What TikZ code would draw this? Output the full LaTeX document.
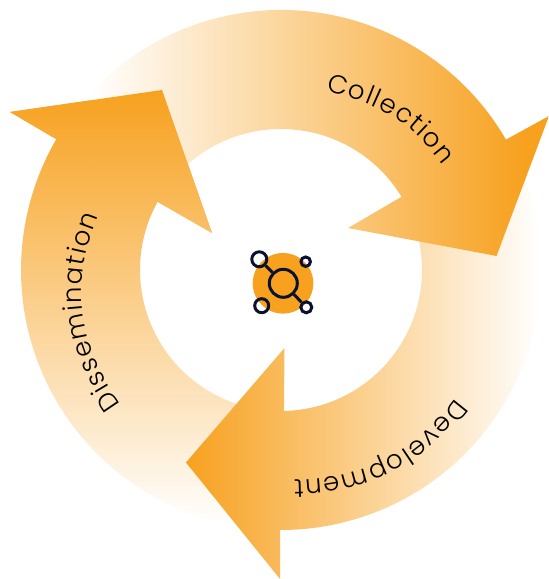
\documentclass[tikz,border=0pt]{standalone}
\usepackage{fontspec}
\setmainfont{Poppins}[UprightFont=* Light]
\usetikzlibrary{decorations.text}
\definecolor{brandorange}{HTML}{F7A11F}
\definecolor{iconnavy}{HTML}{0B1130}
\tikzset{
  x=1pt,y=1pt,
  ring/.style={circle,draw=iconnavy,line width=3pt,inner sep=0pt},
  iconlink/.style={draw=iconnavy,line width=3pt},
  curvedlabel/.style={decorate,decoration={text along path,text align={fit to path},text color=black,
    text={|\fontsize{26}{26}\selectfont|#1}}}
}
\newcommand{\pathone}{([shift={(c)}]150:260) arc[start angle=150,end angle=30.1,radius=260] -- (549,463) -- (496.5,323) -- (348,351) -- (402,382.5) -- ([shift={(c)}]31.4:141) arc[start angle=31.4,end angle=150,radius=141] -- cycle}
\newcommand{\pathtwo}{([shift={(c)}]25:260) arc[start angle=25,end angle=-90.2,radius=260] -- (280,0) -- (186,116.5) -- (284.5,231) -- ([shift={(c)}]-88.8:141) arc[start angle=-88.8,end angle=15,radius=141] -- cycle}
\newcommand{\paththree}{([shift={(c)}]-100:260) arc[start angle=-100,end angle=-210.2,radius=260] -- (10,467) -- (162,489) -- (212,346) -- (158,377) -- ([shift={(c)}]151:141) arc[start angle=151,end angle=260,radius=141] -- cycle}
\newcommand{\headthree}{(56,440) -- (10,467) -- (162,489) -- (212,346) -- (158,377) -- cycle}
\newcommand{\shadeone}{\shade[left color=white,right color=brandorange] (90,0) rectangle (525,579);\fill[brandorange] (525,0) rectangle (549,579);}
\newcommand{\shadetwo}{\shade[left color=brandorange,right color=white] (186,0) rectangle (540,579);}
\newcommand{\shadethree}{\shade[top color=brandorange,bottom color=white] (0,54) rectangle (549,489);}
\begin{document}
\begin{tikzpicture}
\useasboundingbox (0,0) rectangle (549,579);
\coordinate (c) at (281,309);
\begin{scope}\clip \paththree; \shadethree\end{scope}
\begin{scope}\clip \pathtwo; \shadetwo\end{scope}
\begin{scope}\clip \pathone; \shadeone\end{scope}
\begin{scope}\clip \headthree; \shadethree\end{scope}
% labels
\coordinate (colA) at (326,487);
\coordinate (colB) at (443,414);
\coordinate (devA) at (455,181);
\coordinate (devB) at (294,99);
\coordinate (disA) at (121,175);
\coordinate (disB) at (98,363);
\path[curvedlabel=Collection] (colA) to[bend left=21] (colB);
\path[curvedlabel=Development] (devA) to[bend left=26] (devB);
\path[curvedlabel=Dissemination] (disA) to[bend left=29] (disB);
% icon
\node[circle,fill=brandorange,minimum size=60.6pt,inner sep=0pt] (disc) at (283,295.7) {};
\node[ring,minimum size=28pt] (hub) at (283.3,295.7) {};
\node[ring,minimum size=15pt] (tl) at (259.3,319.7) {};
\node[ring,minimum size=9.5pt] (tr) at (305.7,317.3) {};
\node[ring,minimum size=14pt] (bl) at (261.7,273.3) {};
\node[ring,minimum size=11pt] (br) at (306.3,271.7) {};
\draw[iconlink] (tl) -- (hub);
\draw[iconlink] (hub) -- (br);
\end{tikzpicture}
\end{document}
